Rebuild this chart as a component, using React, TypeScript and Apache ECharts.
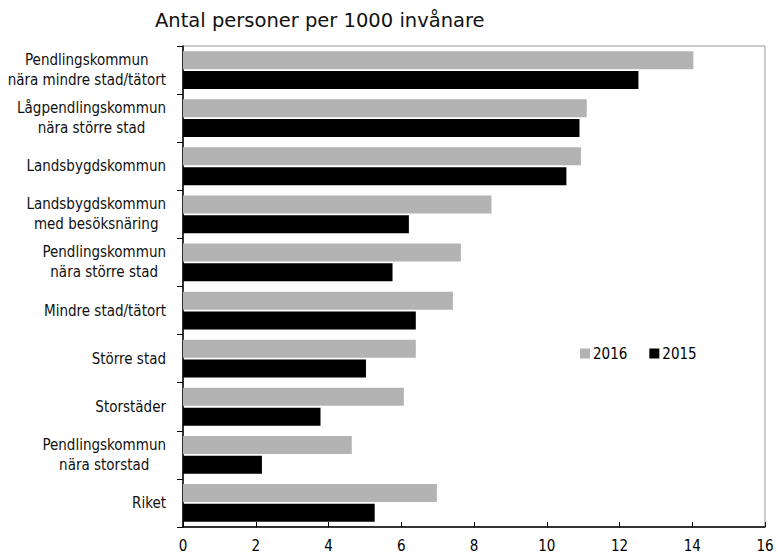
import React, { useEffect, useRef } from "react";
import * as echarts from "echarts";

const categories = [
  "Pendlingskommun\nnära mindre stad/tätort",
  "Lågpendlingskommun\nnära större stad",
  "Landsbygdskommun",
  "Landsbygdskommun\nmed besöksnäring",
  "Pendlingskommun\nnära större stad",
  "Mindre stad/tätort",
  "Större stad",
  "Storstäder",
  "Pendlingskommun\nnära storstad",
  "Riket",
];
const values2016 = [14.03, 11.1, 10.94, 8.48, 7.64, 7.42, 6.4, 6.07, 4.64, 6.98];
const values2015 = [12.52, 10.9, 10.54, 6.21, 5.76, 6.4, 5.03, 3.78, 2.17, 5.27];
const xTicks = [0, 2, 4, 6, 8, 10, 12, 14, 16];
const titleText = "Antal personer per 1000 invånare";

const narrow = "'Liberation Sans Narrow', 'DejaVu Sans Condensed', sans-serif";

export default function App() {
  const ref = useRef<HTMLDivElement>(null);
  useEffect(() => {
    if (!ref.current) return;
    const chart = echarts.init(ref.current, undefined, { renderer: "svg" });
    chart.setOption({
      animation: false,
      backgroundColor: "#fff",
      title: {
        text: titleText,
        left: 150,
        top: 5,
        textStyle: { fontFamily: "'DejaVu Sans', sans-serif", fontSize: 19.5, fontWeight: "normal", color: "#111" },
      },
      legend: {
        left: 575,
        top: 341,
        icon: "rect",
        itemWidth: 10,
        itemHeight: 10,
        itemGap: 22,
        data: ["2016", "2015"],
        textStyle: { fontFamily: narrow, fontSize: 15, color: "#000", padding: [0, 0, 0, -2] },
      },
      grid: {
        left: 183,
        right: 13,
        top: 46,
        bottom: 30,
        show: true,
        borderColor: "#999",
        borderWidth: 1,
      },
      xAxis: {
        type: "value",
        min: 0,
        max: 16,
        interval: 2,
        axisLine: { show: true, lineStyle: { color: "#000", width: 1.5 } },
        axisTick: { show: true, inside: true, length: 5, lineStyle: { color: "#000" } },
        splitLine: { show: false },
        axisLabel: {
          formatter: (v: number) => (xTicks.includes(v) ? String(v) : ""),
          fontFamily: narrow,
          fontSize: 15,
          color: "#000",
          margin: 11,
        },
      },
      yAxis: {
        type: "category",
        inverse: true,
        data: categories,
        axisLine: { show: true, lineStyle: { color: "#000", width: 1.5 } },
        axisTick: { show: true, length: 6, lineStyle: { color: "#000" } },
        axisLabel: {
          margin: 17,
          fontFamily: narrow,
          fontSize: 15,
          color: "#111",
          formatter: (v: string) =>
            v
              .split("\n")
              .map((l) => "{c|" + l + "}")
              .join("\n"),
          rich: {
            c: { align: "center", fontFamily: narrow, fontSize: 15, color: "#111", lineHeight: 20 },
          },
        },
      },
      series: [
        {
          name: "2016",
          type: "bar",
          data: values2016,
          barWidth: 18,
          barGap: "10%",
          itemStyle: { color: "#b3b3b3" },
        },
        {
          name: "2015",
          type: "bar",
          data: values2015,
          barWidth: 18,
          barGap: "10%",
          itemStyle: { color: "#000" },
        },
      ],
    });
    return () => chart.dispose();
  }, []);
  return <div ref={ref} style={{ width: 778, height: 557, position: "absolute", left: 0, top: 0 }} />;
}
